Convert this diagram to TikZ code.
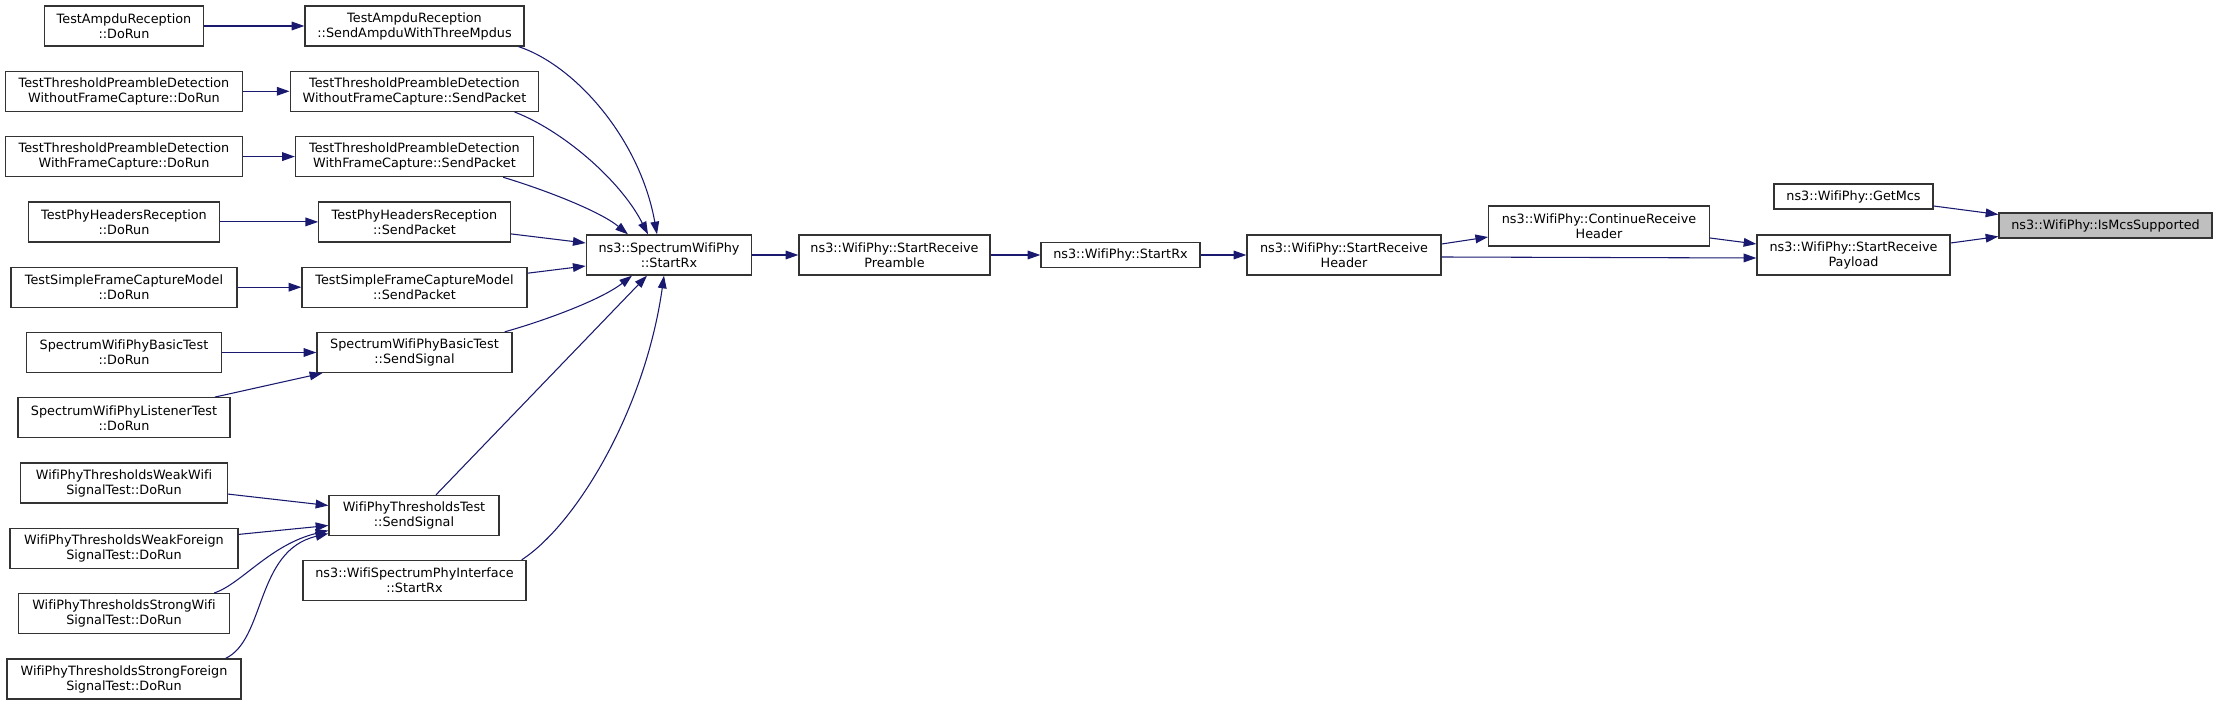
\documentclass[tikz,border=0pt]{standalone}
\usepackage{fontspec}
\setmainfont{DejaVu Sans}[Ligatures=NoCommon]
\usetikzlibrary{arrows.meta,calc}
\definecolor{edgeblue}{HTML}{191970}
\definecolor{boxgray}{HTML}{333333}
\definecolor{hilite}{HTML}{BFBFBF}
\begin{document}
\begin{tikzpicture}[x=0.75pt,y=-0.75pt,
  fn/.style={draw=boxgray, line width=1pt, fill=white, inner sep=0pt, align=center,
    font=\fontsize{9.6}{11.25}\selectfont, minimum height=30pt},
  fn1/.style={fn, minimum height=18.75pt},
  edge/.style={draw=edgeblue, line width=0.8pt, -{Triangle[length=9.5pt,width=6.5pt]}}]
\fill[white] (0,0) rectangle (2217,705);
\useasboundingbox (0,0) rectangle (2217,705);
% left column
\node[fn, minimum width=119.25pt] (tarD) at (124,26) {TestAmpduReception\\::DoRun};
\node[fn, minimum width=178.1pt] (wofD) at (124,91.3) {TestThresholdPreambleDetection\\WithoutFrameCapture::DoRun};
\node[fn, minimum width=178.1pt] (wfD) at (124,156.6) {TestThresholdPreambleDetection\\WithFrameCapture::DoRun};
\node[fn, minimum width=143.25pt] (phD) at (124,221.9) {TestPhyHeadersReception\\::DoRun};
\node[fn, minimum width=169.5pt] (sfD) at (124,287.2) {TestSimpleFrameCaptureModel\\::DoRun};
\node[fn, minimum width=146.25pt] (bsD) at (124,352.5) {SpectrumWifiPhyBasicTest\\::DoRun};
\node[fn, minimum width=159pt] (lsD) at (124,417.8) {SpectrumWifiPhyListenerTest\\::DoRun};
\node[fn, minimum width=155.25pt] (wwD) at (124,483.1) {WifiPhyThresholdsWeakWifi\\SignalTest::DoRun};
\node[fn, minimum width=171pt] (wfoD) at (124,548.4) {WifiPhyThresholdsWeakForeign\\SignalTest::DoRun};
\node[fn, minimum width=158.25pt] (swD) at (124,613.7) {WifiPhyThresholdsStrongWifi\\SignalTest::DoRun};
\node[fn, minimum width=175.5pt] (sfoD) at (124,679) {WifiPhyThresholdsStrongForeign\\SignalTest::DoRun};
% middle column
\node[fn, minimum width=164.25pt] (sa) at (414.5,26) {TestAmpduReception\\::SendAmpduWithThreeMpdus};
\node[fn, minimum width=186.45pt] (wofS) at (414.5,91.3) {TestThresholdPreambleDetection\\WithoutFrameCapture::SendPacket};
\node[fn, minimum width=178.5pt] (wfS) at (414.5,156.6) {TestThresholdPreambleDetection\\WithFrameCapture::SendPacket};
\node[fn, minimum width=143.55pt] (phS) at (414.5,221.9) {TestPhyHeadersReception\\::SendPacket};
\node[fn, minimum width=168.75pt] (sfS) at (414.5,287.2) {TestSimpleFrameCaptureModel\\::SendPacket};
\node[fn, minimum width=146.25pt] (bsS) at (414.5,352.5) {SpectrumWifiPhyBasicTest\\::SendSignal};
\node[fn, minimum width=127.5pt] (wpt) at (414,515.5) {WifiPhyThresholdsTest\\::SendSignal};
\node[fn, minimum width=167.25pt] (wspi) at (414.5,580.5) {ns3::WifiSpectrumPhyInterface\\::StartRx};
% chain
\node[fn, minimum width=124.1pt] (swp) at (669,255) {ns3::SpectrumWifiPhy\\::StartRx};
\node[fn, minimum width=143.25pt] (pre) at (894.5,255) {ns3::WifiPhy::StartReceive\\Preamble};
\node[fn1, minimum width=119.25pt] (wsr) at (1120.5,255) {ns3::WifiPhy::StartRx};
\node[fn, minimum width=145.5pt] (hdr) at (1344,255) {ns3::WifiPhy::StartReceive\\Header};
\node[fn, minimum width=165.4pt] (cont) at (1599,226) {ns3::WifiPhy::ContinueReceive\\Header};
\node[fn, minimum width=144.75pt] (pay) at (1853.5,255) {ns3::WifiPhy::StartReceive\\Payload};
\node[fn1, minimum width=119.25pt] (gm) at (1853.5,196.5) {ns3::WifiPhy::GetMcs};
\node[fn1, minimum width=159.75pt, fill=hilite] (ims) at (2105.5,225.5) {ns3::WifiPhy::IsMcsSupported};
% edges left -> middle
\draw[edge] (tarD.east) -- (sa.west);
\draw[edge] (wofD.east) -- (wofS.west);
\draw[edge] (wfD.east) -- (wfS.west);
\draw[edge] (phD.east) -- (phS.west);
\draw[edge] (sfD.east) -- (sfS.west);
\draw[edge] (bsD.east) -- (bsS.west);
\draw[edge] ($(lsD.north east)+(-16,0)$) -- ($(bsS.south west)+(6,0)$);
\draw[edge] ($(wwD.east)+(0,11)$) -- ($(wpt.west)+(0,-10)$);
\draw[edge] ($(wfoD.east)+(0,-14)$) -- ($(wpt.west)+(0,10)$);
\draw[edge] ($(swD.north east)+(-16,0)$) .. controls +(27,-9) and +(-58,14) .. ($(wpt.west)+(0,15)$);
\draw[edge] ($(sfoD.north east)+(-16,0)$) .. controls +(40,-19) and +(-73,17) .. ($(wpt.west)+(0,18)$);
% edges middle -> SpectrumWifiPhy::StartRx
\draw[edge] ($(sa.south east)+(-6,0)$) .. controls +(57,19) and +(-17,-95) .. ($(swp.north)+(-12,0)$);
\draw[edge] ($(wofS.south east)+(-25,0)$) .. controls +(47,18) and +(-28,-55) .. ($(swp.north)+(-21,0)$);
\draw[edge] ($(wfS.south east)+(-31,0)$) .. controls +(43,13) and +(-28,-23) .. ($(swp.north)+(-41,0)$);
\draw[edge] ($(phS.east)+(0,12)$) -- ($(swp.west)+(0,-12)$);
\draw[edge] ($(sfS.east)+(0,-14)$) -- ($(swp.west)+(0,11)$);
\draw[edge] ($(bsS.north east)+(-8,0)$) .. controls +(36,-10) and +(-32,25) .. ($(swp.south)+(-37,0)$);
\draw[edge] ($(wpt.north)+(22,0)$) -- ($(swp.south)+(-22,0)$);
\draw[edge] ($(wspi.north east)+(-5,0)$) .. controls +(54,-35) and +(-19,135) .. ($(swp.south)+(-5,0)$);
% chain edges
\draw[edge] (swp.east) -- (pre.west);
\draw[edge] (pre.east) -- (wsr.west);
\draw[edge] (wsr.east) -- (hdr.west);
\draw[edge] ($(hdr.east)+(0,-11)$) -- ($(cont.west)+(0,11)$);
\draw[edge] ($(hdr.east)+(0,2)$) -- ($(pay.west)+(0,3)$);
\draw[edge] ($(cont.east)+(0,12)$) -- ($(pay.west)+(0,-11)$);
\draw[edge] ($(gm.east)+(0,9.5)$) -- ($(ims.west)+(0,-11)$);
\draw[edge] ($(pay.east)+(0,-12)$) -- ($(ims.west)+(0,11)$);
\end{tikzpicture}
\end{document}
